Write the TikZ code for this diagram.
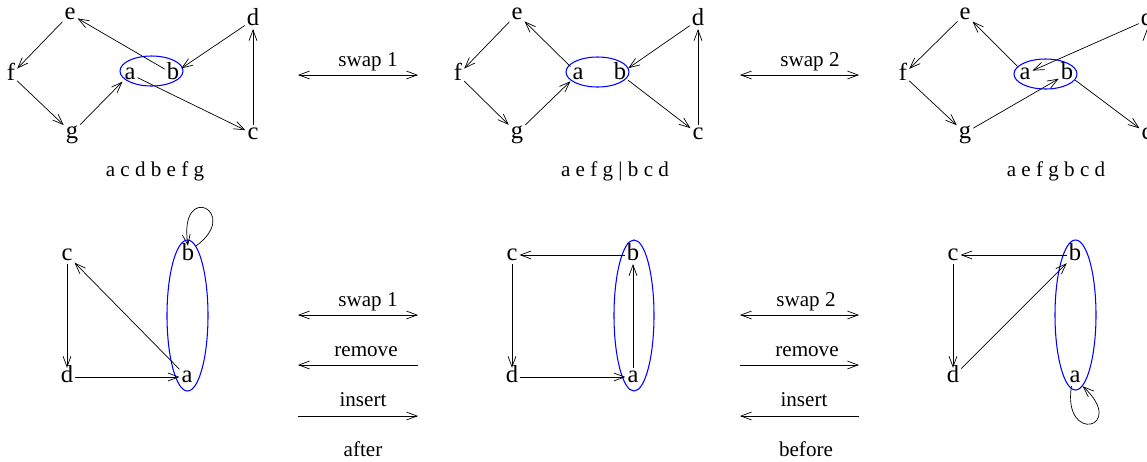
\documentclass[tikz,border=0pt]{standalone}
\usepackage{fontspec}
\setmainfont{Liberation Serif}
\usetikzlibrary{arrows.meta}

\begin{document}
\begin{tikzpicture}[x=0.02cm,y=-0.02cm,
    every node/.style={font=\fontsize{12}{14}\selectfont},
    vtx/.style={anchor=base,inner sep=1pt,text height=1.5ex,text depth=.25ex,
      font=\fontsize{14}{16}\selectfont},
    lbl/.style={anchor=base,inner sep=0pt},
    >={Straight Barb[length=6pt,width=4.5pt]},
    set/.style={draw=blue,line width=.6pt}]
  \useasboundingbox (0,0) rectangle (1147,461);
  % top left
  \node [vtx] (E1) at (70,19) {e};
  \node [vtx] (D1) at (253,25) {d};
  \node [vtx] (F1) at (11,80) {f};
  \node [vtx] (A1) at (130,79) {a};
  \node [vtx] (B1) at (173,79) {b};
  \node [vtx] (G1) at (72,138) {g};
  \node [vtx] (C1) at (253,139) {c};
  \draw [set] (151.5,71) ellipse [x radius=31.5, y radius=15];
  \draw [->] (E1) to (F1);
  \draw [->] (F1) to (G1);
  \draw [->] (G1) to (A1);
  \draw [->] (A1) to (C1);
  \draw [->] (C1) to (D1);
  \draw [->] (D1) to (B1);
  \draw [->] (B1) to (E1);
  \node [lbl] (T1) at (155,176) {a c d b e f g};
  % top middle
  \node [vtx] (E2) at (517,19) {e};
  \node [vtx] (D2) at (698,25) {d};
  \node [vtx] (F2) at (458,80) {f};
  \node [vtx] (A2) at (578,79) {a};
  \node [vtx] (B2) at (620,79) {b};
  \node [vtx] (G2) at (517,138) {g};
  \node [vtx] (C2) at (698,139) {c};
  \draw [set] (597.5,72) ellipse [x radius=31.5, y radius=15];
  \draw [->] (A2) to (E2);
  \draw [->] (E2) to (F2);
  \draw [->] (F2) to (G2);
  \draw [->] (G2) to (A2);
  \draw [->] (D2) to (B2);
  \draw [->] (B2) to (C2);
  \draw [->] (C2) to (D2);
  \node [lbl] (T2) at (615,176) {a e f g | b c d};
  % top right
  \node [vtx] (E3) at (965,19) {e};
  \node [vtx] (D3) at (1147,25) {d};
  \node [vtx] (F3) at (903,80) {f};
  \node [vtx] (A3) at (1025,79) {a};
  \node [vtx] (B3) at (1067,79) {b};
  \node [vtx] (G3) at (965,138) {g};
  \node [vtx] (C3) at (1147,139) {c};
  \draw [set] (1045.5,74) ellipse [x radius=31.5, y radius=15];
  \draw [->] (A3) to (E3);
  \draw [->] (E3) to (F3);
  \draw [->] (F3) to (G3);
  \draw [->] (G3) to (B3);
  \draw [->] (D3) to (A3);
  \draw [->] (B3) to (C3);
  \draw [->] (C3) to (D3);
  \node [lbl] (T3) at (1056,176) {a e f g b c d};
  % bottom left
  \node [vtx] (C4) at (67,260) {c};
  \node [vtx] (B4) at (188,260) {b};
  \node [vtx] (D4) at (67,382) {d};
  \node [vtx] (A4) at (187,382) {a};
  \draw [set] (187.5,315.5) ellipse [x radius=20.5, y radius=75.5];
  \draw [->] (C4) to (D4);
  \draw [->] (D4) to (A4);
  \draw [->] (A4) to (C4);
  \draw [->] (B4.north east) .. controls (242,212) and (178,180) .. (B4.north);
  % bottom middle
  \node [vtx] (C5) at (512,260) {c};
  \node [vtx] (B5) at (633,260) {b};
  \node [vtx] (D5) at (512,382) {d};
  \node [vtx] (A5) at (633,382) {a};
  \draw [set] (634,315.5) ellipse [x radius=20, y radius=75.5];
  \draw [->] (B5) to (C5);
  \draw [->] (C5) to (D5);
  \draw [->] (D5) to (A5);
  \draw [->] (A5) to (B5);
  % bottom right
  \node [vtx] (C6) at (953,260) {c};
  \node [vtx] (B6) at (1075,260) {b};
  \node [vtx] (D6) at (953,382) {d};
  \node [vtx] (A6) at (1075,382) {a};
  \draw [set] (1075.5,315) ellipse [x radius=20.5, y radius=75];
  \draw [->] (B6) to (C6);
  \draw [->] (C6) to (D6);
  \draw [->] (D6) to (B6);
  \draw [->] ([xshift=-2pt]A6.south) .. controls (1062,445) and (1128,428) .. (A6.south east);
  % operations, left
  \coordinate (P1) at (298,75);  \coordinate (Q1) at (418,75);
  \coordinate (P2) at (298,315); \coordinate (Q2) at (418,315);
  \coordinate (P3) at (298,365); \coordinate (Q3) at (418,365);
  \coordinate (P4) at (298,416); \coordinate (Q4) at (418,416);
  \node [lbl] (L1) at (368,66) {swap 1};
  \node [lbl] (L2) at (368,306) {swap 1};
  \node [lbl] (L3) at (366,356) {remove};
  \node [lbl] (L4) at (363,406) {insert};
  \node [lbl] (L5) at (363,456) {after};
  \draw [<->] (P1) to (Q1);
  \draw [<->] (P2) to (Q2);
  \draw [<-] (P3) to (Q3);
  \draw [->] (P4) to (Q4);
  % operations, right
  \coordinate (P5) at (740,75);  \coordinate (Q5) at (859,75);
  \coordinate (P6) at (740,315); \coordinate (Q6) at (859,315);
  \coordinate (P7) at (740,365); \coordinate (Q7) at (859,365);
  \coordinate (P8) at (740,416); \coordinate (Q8) at (859,416);
  \node [lbl] (R1) at (810,66) {swap 2};
  \node [lbl] (R2) at (806,306) {swap 2};
  \node [lbl] (R3) at (807,356) {remove};
  \node [lbl] (R4) at (804,406) {insert};
  \node [lbl] (R5) at (806,456) {before};
  \draw [<->] (P5) to (Q5);
  \draw [<->] (P6) to (Q6);
  \draw [->] (P7) to (Q7);
  \draw [<-] (P8) to (Q8);
\end{tikzpicture}
\end{document}
